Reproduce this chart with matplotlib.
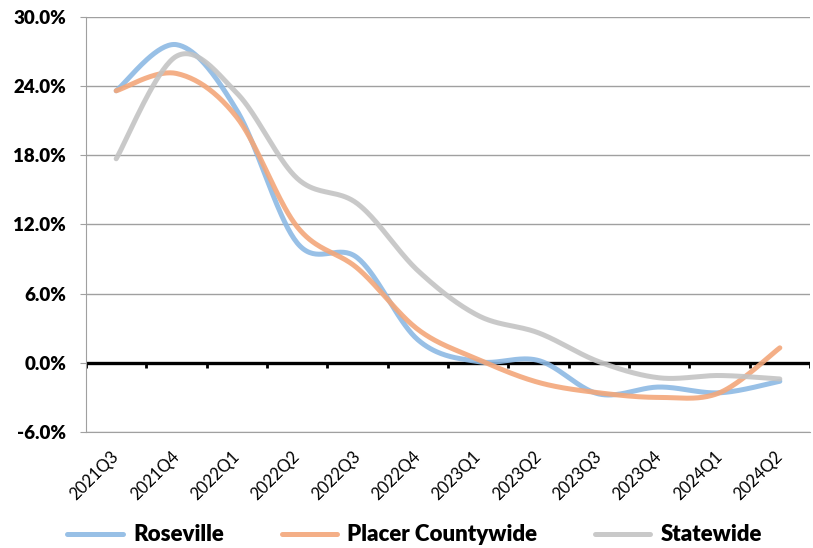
import numpy as np
import matplotlib
matplotlib.use("Agg")
import matplotlib.pyplot as plt
from matplotlib.ticker import FuncFormatter

plt.rcParams['font.family'] = ['Lato', 'DejaVu Sans']

# quarterly year-over-year change, percent
quarters = ['2021Q3', '2021Q4', '2022Q1', '2022Q2', '2022Q3', '2022Q4',
            '2023Q1', '2023Q2', '2023Q3', '2023Q4', '2024Q1', '2024Q2']
roseville = [23.6, 27.6, 21.9, 10.4, 9.1, 2.0, 0.1, 0.2, -2.7, -2.1, -2.6, -1.6]
placer = [23.6, 25.1, 21.3, 11.8, 8.2, 2.9, 0.3, -1.7, -2.6, -3.0, -2.6, 1.3]
statewide = [17.7, 26.6, 23.4, 16.0, 13.8, 8.0, 4.1, 2.6, 0.1, -1.3, -1.1, -1.4]

series = [
    ('Roseville', roseville, '#8DB9E4'),
    ('Placer Countywide', placer, '#F3A77A'),
    ('Statewide', statewide, '#C4C4C4'),
]


def smooth(y, steps=40):
    """Bezier smoothing through every point (Excel-style smoothed line)."""
    y = np.asarray(y, dtype=float)
    x = np.arange(len(y), dtype=float)
    pts = np.column_stack([x, y])
    padded = np.vstack([pts[0], pts, pts[-1]])
    out = []
    t = np.linspace(0, 1, steps)[:, None]
    for i in range(len(pts) - 1):
        p0, p1, p2, p3 = padded[i], padded[i + 1], padded[i + 2], padded[i + 3]
        c1 = p1 + (p2 - p0) / 6.0
        c2 = p2 - (p3 - p1) / 6.0
        seg = ((1 - t) ** 3) * p1 + 3 * ((1 - t) ** 2) * t * c1 \
            + 3 * (1 - t) * t ** 2 * c2 + t ** 3 * p2
        out.append(seg if i == 0 else seg[1:])
    out = np.vstack(out)
    return out[:, 0], out[:, 1]


fig = plt.figure(figsize=(8.13, 5.48), dpi=100)
ax = fig.add_axes([0.1058, 0.2117, 0.8905, 0.7573])

grid_color = '#A0A0A0'
for v in np.arange(-6, 31, 6):
    ax.axhline(v, color=grid_color, lw=1.0, zorder=1)

# zero line with category boundary ticks
ax.axhline(0, color='black', lw=2.4, zorder=2)
for b in np.arange(-0.5, len(quarters), 1.0):
    ax.plot([b, b], [0, -0.45], color='black', lw=2.0, solid_capstyle='butt', zorder=2)

for name, vals, color in series:
    xs, ys = smooth(vals)
    ax.plot(xs, ys, color=color, lw=3.6, alpha=0.9, label=name,
            solid_capstyle='round', zorder=3)

ax.set_xlim(-0.5, len(quarters) - 0.5)
ax.set_ylim(-6, 30)
ax.set_yticks(np.arange(-6, 31, 6))
ax.yaxis.set_major_formatter(FuncFormatter(lambda v, p: f'{v:.1f}%'))
ax.set_xticks(range(len(quarters)))
ax.set_xticklabels(quarters, rotation=45, ha='right', va='center',
                   rotation_mode='anchor', fontsize=12)

for side in ['top', 'right']:
    ax.spines[side].set_visible(False)
ax.spines['left'].set_color(grid_color)
ax.spines['bottom'].set_color(grid_color)
ax.tick_params(axis='y', direction='out', length=4.3, color=grid_color,
               pad=10, labelsize=13.5)
ax.tick_params(axis='x', length=0, pad=15.5)
for lbl in ax.get_yticklabels():
    lbl.set_fontweight('heavy')

fig.legend(loc='center', bbox_to_anchor=(0.51, 0.024), ncol=3, frameon=False,
           prop={'weight': 'heavy', 'size': 16}, handlelength=2.5,
           handletextpad=0.45, columnspacing=2.6)

fig.savefig('out.png', dpi=100)
